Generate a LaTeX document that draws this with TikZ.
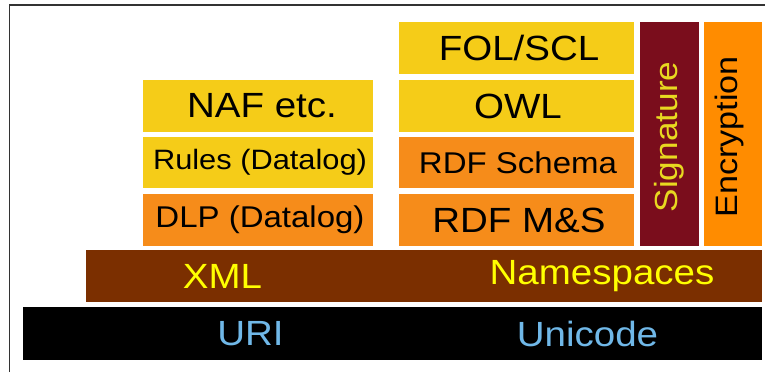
\documentclass[tikz,border=0pt]{standalone}
\usepackage{fontspec}
\setmainfont{Liberation Sans}[FakeStretch=1.1]
\definecolor{cyel}{HTML}{F5CC18}
\definecolor{corg}{HTML}{F68C1A}
\definecolor{cenc}{HTML}{FF8C00}
\definecolor{cbrn}{HTML}{7B2F00}
\definecolor{csig}{HTML}{7A0D1C}
\definecolor{txyel}{HTML}{FFFF00}
\definecolor{sigyel}{HTML}{E8D820}
\definecolor{txblu}{HTML}{70B8E8}
\definecolor{frm}{HTML}{333333}
\tikzset{
  blk/.style={inner sep=0pt, outer sep=0pt, anchor=north west, text=black},
  lbl/.style={inner sep=0pt, text=black},
}
\newcommand{\fs}[1]{\fontsize{#1}{#1}\selectfont}
\begin{document}
\begin{tikzpicture}[x=1pt,y=-1pt]
\useasboundingbox (0,0) rectangle (765,372);
\fill[white] (0,0) rectangle (765,372);
% frame
\draw[frm, line width=1.5pt] (9.5,372) -- (9.5,5) -- (765,5);
% boxes
\fill[black] (23,307) rectangle (762,360);
\fill[cbrn] (86,250) rectangle (762,302);
\fill[cyel] (143,80) rectangle (373,132);
\fill[cyel] (143,137) rectangle (373,188);
\fill[corg] (143,194) rectangle (373,246);
\fill[cyel] (399,22) rectangle (634,74);
\fill[cyel] (399,80) rectangle (634,132);
\fill[corg] (399,137) rectangle (634,188);
\fill[corg] (399,194) rectangle (634,246);
\fill[csig] (640,22) rectangle (699,246);
\fill[cenc] (704,22) rectangle (762,246);
% labels
\node[lbl] (naf) at (262,106) {\fs{35}NAF etc.};
\node[lbl] (rules) at (260,162.5) {\fs{28}Rules (Datalog)};
\node[lbl] (dlp) at (260,220) {\fs{30}DLP (Datalog)};
\node[lbl] (fol) at (519,48) {\fs{35}FOL/SCL};
\node[lbl] (owl) at (518,106) {\fs{35}OWL};
\node[lbl] (rdfs) at (518,162.5) {\fs{30}RDF Schema};
\node[lbl] (rdfms) at (519,220) {\fs{35}RDF M\&S};
\node[lbl, text=sigyel, rotate=90] (sig) at (669.5,137) {\fs{32}Signature};
\node[lbl, rotate=90] (enc) at (729,137) {\fs{31}Encryption};
\node[lbl, text=txyel] (xml) at (222.5,276) {\fs{35}XML};
\node[lbl, text=txyel] (ns) at (602,276) {\fs{35}Namespaces};
\node[lbl, text=txblu] (uri) at (250.5,333.5) {\fs{35}URI};
\node[lbl, text=txblu] (uni) at (587.5,333.5) {\fs{35}Unicode};
\end{tikzpicture}
\end{document}
